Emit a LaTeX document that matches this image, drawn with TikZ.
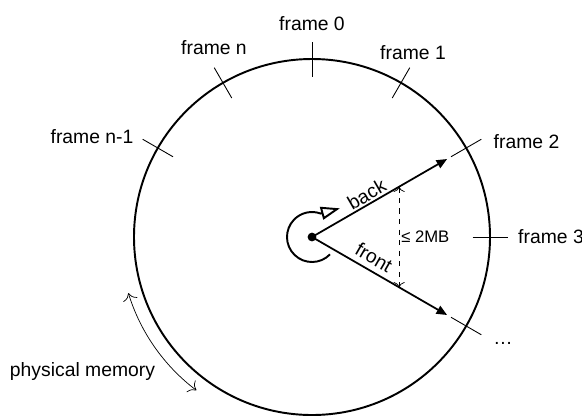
\documentclass[tikz,border=0pt]{standalone}
\usepackage{fontspec}
\setmainfont{Liberation Sans}
\usepackage{tikz}
\usetikzlibrary{arrows.meta, calc}

\begin{document}
\begin{tikzpicture}[
    lbl/.style={font=\fontsize{11}{13}\selectfont, inner sep=1pt},
    small/.style={font=\fontsize{9.5}{11}\selectfont, inner sep=1pt},
    ring/.style={line width=1.1pt, draw=black},
    tick/.style={line width=0.5pt, draw=black},
    pointer/.style={-{Triangle[length=6pt, width=5pt]}, line width=1pt},
    spin/.style={-{Triangle[open, length=0.38cm, width=0.26cm, fill=white]}, line width=1.1pt},
    span/.style={{To[length=3pt]}-{To[length=3pt]}, dashed, line width=0.4pt},
    sweep/.style={{To[length=4pt]}-{To[length=4pt]}, line width=0.4pt}
]
\useasboundingbox (-6.24,-3.56) rectangle (5.40,4.74);

% Ring of physical memory
\node[circle, fill=black, inner sep=0pt, minimum size=5pt] (c) at (0,0) {};
\draw[ring] (c.center) circle[radius=3.56];

% Frame ticks
\draw[tick] (90:3.21) -- (90:3.91);
\draw[tick] (60:3.21) -- (60:3.91);
\draw[tick] (30:3.21) -- (30:3.91);
\draw[tick] (0:3.21) -- (0:3.91);
\draw[tick] (-30:3.21) -- (-30:3.91);
\draw[tick] (120:3.21) -- (120:3.91);
\draw[tick] (150:3.21) -- (150:3.91);

% Frame labels
\node[lbl] (f0) at (0,4.26) {frame 0};
\node[lbl] (f1) at (2.02,3.68) {frame 1};
\node[lbl] (f2) at (4.29,1.91) {frame 2};
\node[lbl] (f3) at (4.78,0) {frame 3};
\node[lbl] (fdots) at (3.82,-2.12) {\dots};
\node[lbl] (fn) at (-1.96,3.78) {frame n};
\node[lbl] (fn1) at (-4.40,2.01) {frame n-1};

% Back and front pointers
\coordinate (bt) at (30:3.12);
\coordinate (ft) at (-30:3.12);
\draw[pointer] (c.center) -- node[lbl, above, sloped, pos=0.44] (back) {back} (bt);
\draw[pointer] (c.center) -- node[lbl, above=2pt, sloped, pos=0.41] (front) {front} (ft);

% Distance between the pointers
\coordinate (bd) at ($(c.center)!0.645!(bt)$);
\coordinate (fd) at ($(c.center)!0.645!(ft)$);
\draw[span] (bd) -- node[small, right] (gap) {≤ 2MB} (fd);

% Direction of movement
\draw[spin] (c.center) ++(-44:0.5) arc[start angle=-44, end angle=-290, radius=0.5] -- ++(15:0.4);

% Physical memory
\node[lbl] (mem) at (-4.59,-2.69) {physical memory};
\draw[sweep] (c.center) ++(197:3.84) arc[start angle=197, end angle=233, radius=3.84];

\end{tikzpicture}
\end{document}
